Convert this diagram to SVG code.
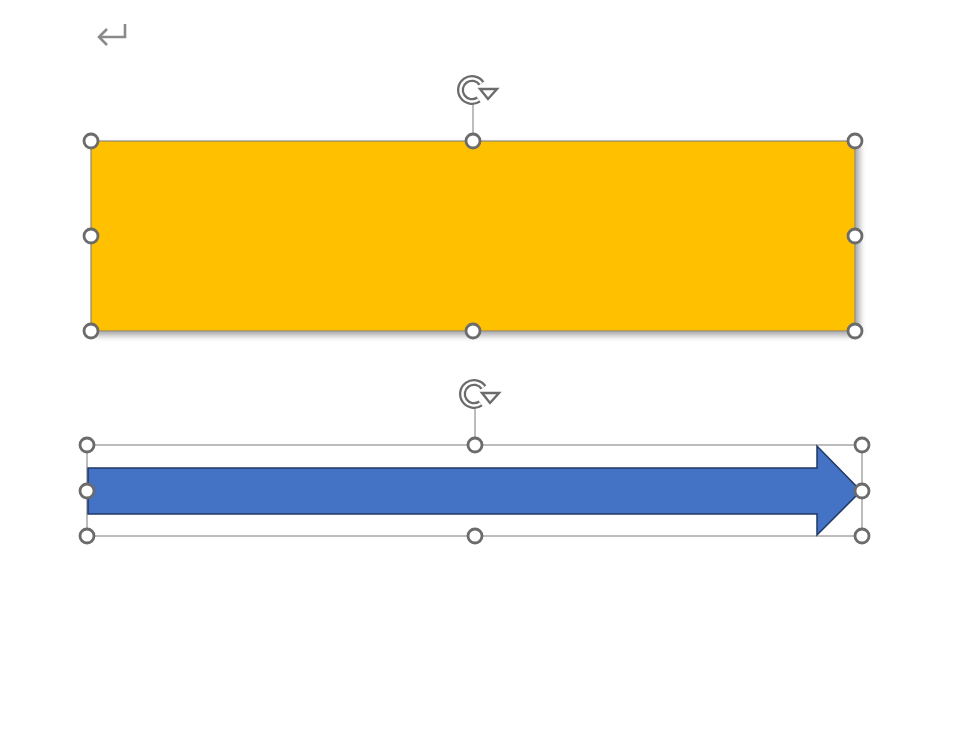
<svg xmlns="http://www.w3.org/2000/svg" width="953" height="729" viewBox="0 0 953 729">
<defs>
<filter id="sh" x="-5%" y="-10%" width="112%" height="125%">
<feGaussianBlur in="SourceAlpha" stdDeviation="3"/>
<feOffset dx="4" dy="4"/>
<feComponentTransfer><feFuncA type="linear" slope="0.35"/></feComponentTransfer>
<feMerge><feMergeNode/><feMergeNode in="SourceGraphic"/></feMerge>
</filter>
<g id="rot">
<path d="M 9.4 -6.6 A 11.5 11.5 0 1 0 6.6 9.4" fill="none" stroke="#6b6b6b" stroke-width="7"/>
<path d="M 9.4 -6.6 A 11.5 11.5 0 1 0 6.6 9.4" fill="none" stroke="#ffffff" stroke-width="2.4"/>
<path d="M 8 -1 L 25 -1 L 16 9 Z" fill="#ffffff" stroke="#6b6b6b" stroke-width="2.4" stroke-linejoin="miter"/>
</g>
</defs>
<style>
.h{fill:#ffffff;stroke:#6b6b6b;stroke-width:2.8}
.sel{fill:none;stroke:#7a7a7a;stroke-width:1}
.ln{stroke:#7a7a7a;stroke-width:1}
</style>
<rect width="953" height="729" fill="#ffffff"/>
<g id="return-mark" fill="none" stroke="#8a8a8a" stroke-width="2.6">
<path d="M 125 24 L 125 37 L 99 37"/>
<path d="M 107 29 L 99 37 L 107 45"/>
</g>
<g id="rectangle">
<rect x="91" y="141" width="764" height="190" fill="#FFC000" stroke="#7a7a7a" stroke-width="1" filter="url(#sh)"/>
</g>
<g id="arrow">
<rect class="sel" x="87" y="445" width="775" height="91"/>
<path d="M 88 468 L 817 468 L 817 446 L 861 491 L 817 535 L 817 514 L 88 514 Z" fill="#4472C4" stroke="#1F3864" stroke-width="1.5" stroke-linejoin="miter"/>
</g>
<g id="connectors">
<line class="ln" x1="473" y1="104" x2="473" y2="141"/>
<line class="ln" x1="475" y1="408" x2="475" y2="445"/>
</g>
<g id="handles-rect">
<use href="#rot" x="472" y="90"/>
<circle class="h" cx="91" cy="141" r="7"/>
<circle class="h" cx="473" cy="141" r="7"/>
<circle class="h" cx="855" cy="141" r="7"/>
<circle class="h" cx="91" cy="236" r="7"/>
<circle class="h" cx="855" cy="236" r="7"/>
<circle class="h" cx="91" cy="331" r="7"/>
<circle class="h" cx="473" cy="331" r="7"/>
<circle class="h" cx="855" cy="331" r="7"/>
</g>
<g id="handles-arrow">
<use href="#rot" x="474" y="394"/>
<circle class="h" cx="87" cy="445" r="7"/>
<circle class="h" cx="475" cy="445" r="7"/>
<circle class="h" cx="862" cy="445" r="7"/>
<circle class="h" cx="87" cy="491" r="7"/>
<circle class="h" cx="862" cy="491" r="7"/>
<circle class="h" cx="87" cy="536" r="7"/>
<circle class="h" cx="475" cy="536" r="7"/>
<circle class="h" cx="862" cy="536" r="7"/>
</g>
</svg>
